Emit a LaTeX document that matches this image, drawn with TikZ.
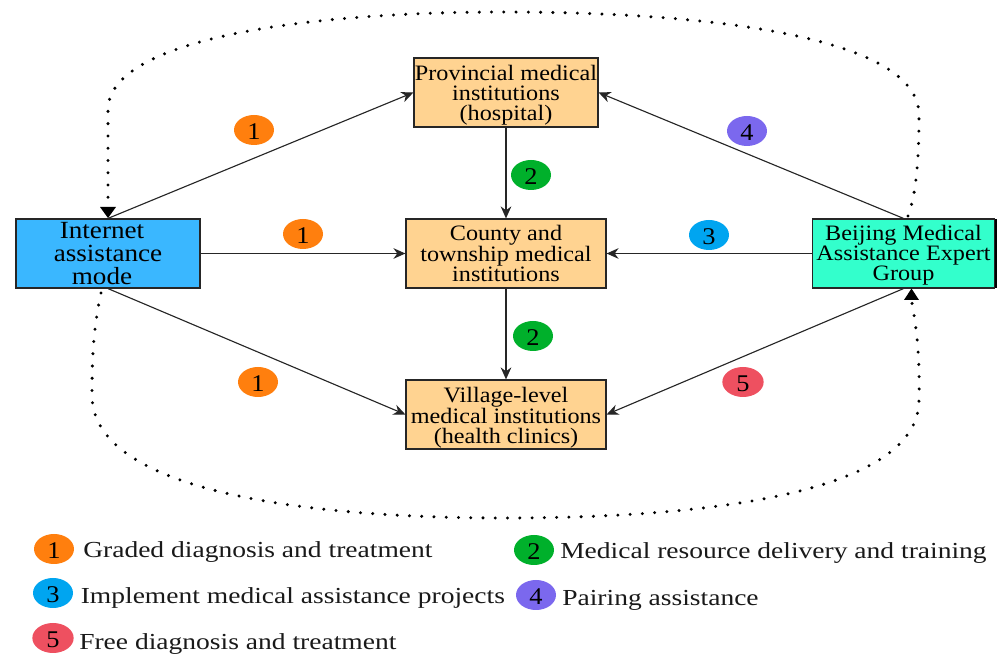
\documentclass[tikz,border=0pt]{standalone}
\usepackage{fontspec}
\setmainfont[FakeStretch=1.1]{Liberation Serif}
\newfontfamily\legendfont[FakeStretch=1.2]{Liberation Serif}
\usetikzlibrary{arrows.meta,shapes.geometric}
\definecolor{boxorange}{HTML}{FFD391}
\definecolor{boxblue}{HTML}{3AB7FF}
\definecolor{boxteal}{HTML}{33FFCC}
\definecolor{mkorange}{HTML}{FF7F0E}
\definecolor{mkgreen}{HTML}{00B02B}
\definecolor{mkblue}{HTML}{00A5F0}
\definecolor{mkpurple}{HTML}{7B68EE}
\definecolor{mkred}{HTML}{EE5060}
\definecolor{linegray}{HTML}{262626}
\newcommand{\lowerby}[1]{\rule{0pt}{#1}}
\tikzset{
  x=0.75pt,y=-0.75pt,
  boxstyle/.style={draw=linegray,line width=0.9pt,rectangle,inner sep=0pt,align=center,
    font=\fontsize{16.5}{15}\selectfont},
  conn/.style={draw=linegray,line width=0.85pt,-{Stealth[length=9pt,width=8pt]}},
  dotline/.style={draw=black,line width=2.5pt,line cap=round,dash pattern=on 0pt off 9.2pt},
  dottip/.style={draw=none,fill=black},
  mark oval/.style={ellipse,minimum width=30pt,minimum height=22.5pt,inner sep=0pt,
    font=\fontsize{18}{18}\selectfont,execute at begin node={\lowerby{14.5pt}}},
  legtext/.style={anchor=west,inner sep=0pt,font=\legendfont\fontsize{17.2}{17}\selectfont,text=black!90}
}
\begin{document}
\begin{tikzpicture}
\useasboundingbox (0,0) rectangle (1001,655);
% boxes
\node[boxstyle,fill=boxorange,minimum width=138pt,minimum height=51.75pt] (prov) at (506,92.5) {\lowerby{16pt}Provincial medical\\institutions\\(hospital)};
\node[boxstyle,fill=boxorange,minimum width=150pt,minimum height=51.75pt] (county) at (506,253.5) {County and\\township medical\\institutions};
\node[boxstyle,fill=boxorange,minimum width=150pt,minimum height=51.75pt] (village) at (506,414.5) {\lowerby{16pt}Village-level\\medical institutions\\(health clinics)};
\node[boxstyle,fill=boxblue,minimum width=138pt,minimum height=51.75pt,font=\fontsize{18.5}{17}\selectfont] (internet) at (108,253.5) {Internet\hspace*{9pt}\\assistance\hspace*{9pt}\\mode\hspace*{9pt}};
\node[boxstyle,fill=boxteal,minimum width=137pt,minimum height=51.75pt] (beijing) at (903.5,253.5) {\lowerby{14pt}Beijing Medical\\Assistance Expert\\Group};
% connectors
\draw[conn] (internet.north) -- (prov.west);
\draw[conn] (internet.east) -- (county.west);
\draw[conn] (internet.south) -- (village.west);
\draw[conn] (prov.south) -- (county.north);
\draw[conn] (county.south) -- (village.north);
\draw[conn] (beijing.north) -- (prov.east);
\draw[conn] (beijing.west) -- (county.east);
\draw[conn] (beijing.south) -- (village.east);
% dotted loops
\coordinate (topstart) at (908,216);
\coordinate (topend) at (108,208);
\coordinate (botstart) at (101,293);
\coordinate (botend) at (912,303);
\draw[dotline] (topstart) .. controls (916,195) and (919,160) .. (919,115)
  .. controls (919,35) and (700,12) .. (505,12)
  .. controls (300,12) and (108,40) .. (108,110)
  -- (topend);
\fill[dottip] (100,207) -- (116,207) -- (108,218) -- cycle;
\draw[dotline] (botstart) .. controls (93,330) and (92,360) .. (92,395)
  .. controls (92,490) and (300,518) .. (505,518)
  .. controls (720,518) and (919,490) .. (919,400)
  .. controls (920,360) and (917,330) .. (botend);
\fill[dottip] (904,300) -- (919,300) -- (911.5,288.5) -- cycle;
% markers on connectors
\node[mark oval,fill=mkorange] (m1a) at (254,130) {1};
\node[mark oval,fill=mkorange] (m1b) at (303,234) {1};
\node[mark oval,fill=mkorange] (m1c) at (258,382) {1};
\node[mark oval,fill=mkgreen] (m2a) at (531,175) {2};
\node[mark oval,fill=mkgreen] (m2b) at (533,336) {2};
\node[mark oval,fill=mkpurple] (m4) at (747,131) {4};
\node[mark oval,fill=mkblue] (m3) at (709,235) {3};
\node[mark oval,fill=mkred,minimum width=31pt] (m5) at (743,382) {5};
% legend
\node[mark oval,fill=mkorange] (l1) at (54,549) {1};
\node[mark oval,fill=mkgreen] (l2) at (534,550) {2};
\node[mark oval,fill=mkblue] (l3) at (53,593) {3};
\node[mark oval,fill=mkpurple] (l4) at (536,595) {4};
\node[mark oval,fill=mkred,minimum width=31pt] (l5) at (53,638) {5};
\node[legtext] (t1) at (83,552) {Graded diagnosis and treatment};
\node[legtext] (t2) at (560,553) {Medical resource delivery and training};
\node[legtext] (t3) at (80.5,598) {Implement medical assistance projects};
\node[legtext] (t4) at (562,600) {Pairing assistance};
\node[legtext] (t5) at (79,644) {Free diagnosis and treatment};
% right edge band of the Beijing box
\fill[black] (995,219) rectangle (997,288);
\end{tikzpicture}
\end{document}
